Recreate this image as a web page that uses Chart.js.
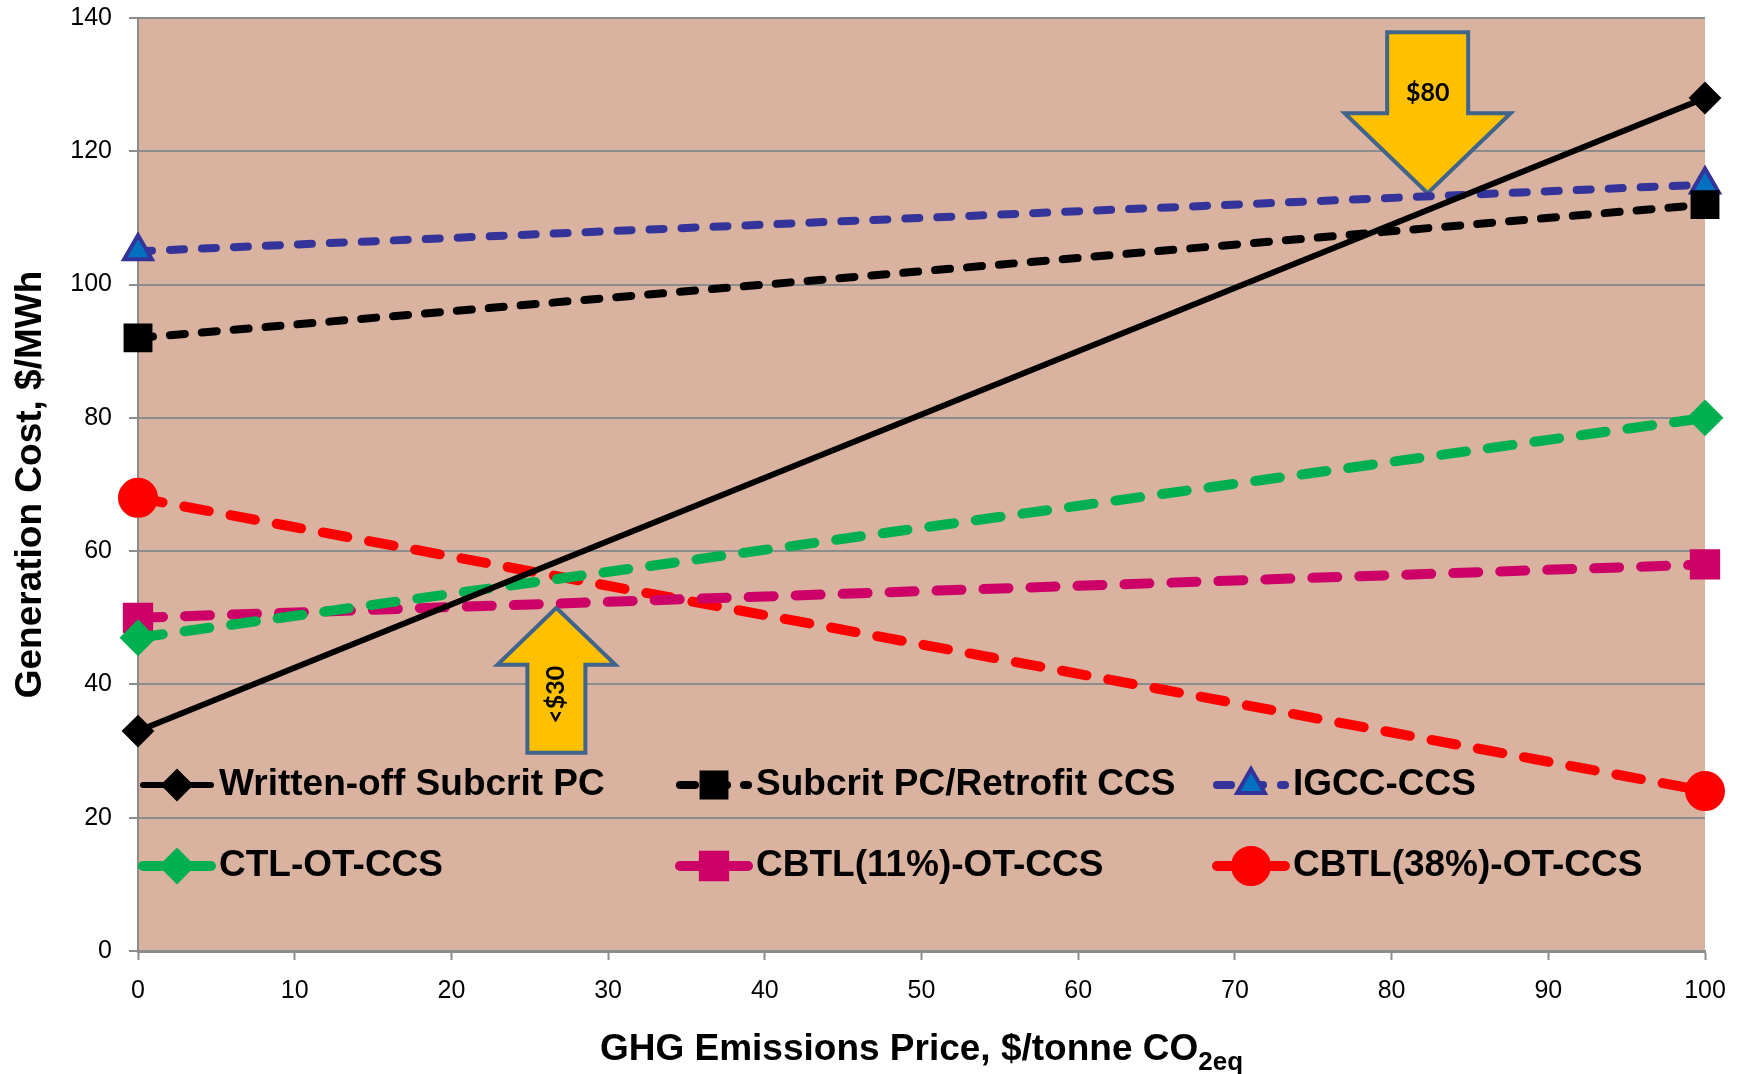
<!DOCTYPE html>
<html>
<head>
<meta charset="utf-8">
<script src="https://cdn.jsdelivr.net/npm/chart.js@4/dist/chart.umd.min.js"></script>
<style>
  html, body { margin: 0; padding: 0; background: #ffffff; }
  #wrap { width: 1737px; height: 1074px; position: relative; }
</style>
</head>
<body>
<div id="wrap"><canvas id="c"></canvas></div>
<script>
// ---- data ----
const ghgPrices = [0, 100];                 // $/tonne CO2eq
const writtenOffSubcritPC = [33, 128];
const subcritRetrofitCCS = [92, 112];
const igccCCS = [105, 115];
const ctlOtCCS = [47, 80];
const cbtl11OtCCS = [50, 58];
const cbtl38OtCCS = [68, 24];
const seriesLabels = ['Written-off Subcrit PC', 'Subcrit PC/Retrofit CCS', 'IGCC-CCS',
                      'CTL-OT-CCS', 'CBTL(11%)-OT-CCS', 'CBTL(38%)-OT-CCS'];
const yTickValues = [0, 20, 40, 60, 80, 100, 120, 140];
const xTickValues = [0, 10, 20, 30, 40, 50, 60, 70, 80, 90, 100];
// annotation arrows: anchored at data coordinates (tip)
const arrowNoteLabels = ['$80', '<$30'];
const arrowNoteX = [82.3, 26.7];
const arrowNoteY = [113.7, 51.5];

const FONT = '"Liberation Sans", Arial, Helvetica, sans-serif';
Chart.defaults.font.family = FONT;
Chart.defaults.color = '#000000';

function pts(ys) { return ghgPrices.map((x, i) => ({ x: x, y: ys[i] })); }

const styles = [
  { color: '#000000', width: 6, dash: [], style: 'rectRot', r: 15, bg: '#000000', bw: 2 },
  { color: '#000000', width: 8, dash: [15, 17], style: 'rect', r: 19, bg: '#000000', bw: 2 },
  { color: '#333399', width: 8, dash: [14, 18], style: 'triangle', r: 16, bg: '#0070C0', bw: 4 },
  { color: '#00B050', width: 10, dash: [25, 22], style: 'rectRot', r: 17, bg: '#00B050', bw: 2 },
  { color: '#CC0066', width: 10, dash: [25, 22], style: 'rect', r: 20, bg: '#CC0066', bw: 2 },
  { color: '#FF0000', width: 10, dash: [25, 22], style: 'circle', r: 19, bg: '#FF0000', bw: 2 }
];
const seriesValues = [writtenOffSubcritPC, subcritRetrofitCCS, igccCCS, ctlOtCCS, cbtl11OtCCS, cbtl38OtCCS];

const datasets = seriesValues.map((vals, i) => {
  const s = styles[i];
  return {
    label: seriesLabels[i],
    data: pts(vals),
    borderColor: s.color,
    backgroundColor: s.bg,
    borderWidth: s.width,
    borderDash: s.dash,
    borderCapStyle: 'round',
    borderJoinStyle: 'round',
    pointStyle: s.style,
    pointRadius: s.r,
    pointBackgroundColor: s.bg,
    pointBorderColor: s.color,
    pointBorderWidth: s.bw,
    tension: 0,
    clip: false,
    fill: false
  };
});

const plotBg = {
  id: 'plotBg',
  beforeDraw(chart) {
    const { ctx, chartArea: a } = chart;
    ctx.save();
    ctx.fillStyle = '#D9B3A0';
    ctx.fillRect(a.left, a.top, a.right - a.left, a.bottom - a.top);
    ctx.restore();
  }
};

const arrows = {
  id: 'arrows',
  beforeDatasetsDraw(chart) {
    const { ctx, scales } = chart;
    const dims = [
      { dir: 1, shaftW: 81, headW: 166, len: 161, headLen: 80, textOff: 100, rot: 0 },
      { dir: -1, shaftW: 58, headW: 118, len: 145, headLen: 57, textOff: 87, rot: -Math.PI / 2 }
    ];
    arrowNoteLabels.forEach((lab, i) => {
      const d = dims[i];
      const tx = scales.x.getPixelForValue(arrowNoteX[i]);
      const ty = scales.y.getPixelForValue(arrowNoteY[i]);
      const s = d.dir; // 1 = pointing down (body above tip)
      ctx.save();
      ctx.beginPath();
      ctx.moveTo(tx - d.shaftW / 2, ty - s * d.len);
      ctx.lineTo(tx + d.shaftW / 2, ty - s * d.len);
      ctx.lineTo(tx + d.shaftW / 2, ty - s * d.headLen);
      ctx.lineTo(tx + d.headW / 2, ty - s * d.headLen);
      ctx.lineTo(tx, ty);
      ctx.lineTo(tx - d.headW / 2, ty - s * d.headLen);
      ctx.lineTo(tx - d.shaftW / 2, ty - s * d.headLen);
      ctx.closePath();
      ctx.fillStyle = '#FFC000';
      ctx.fill();
      ctx.lineWidth = 4;
      ctx.lineJoin = 'miter';
      ctx.strokeStyle = '#41648A';
      ctx.stroke();
      ctx.translate(tx, ty - s * d.textOff);
      ctx.rotate(d.rot);
      ctx.fillStyle = '#000000';
      ctx.font = 'bold 25px Lato, "Open Sans", sans-serif';
      ctx.textAlign = 'center';
      ctx.textBaseline = 'middle';
      ctx.fillText(lab, 0, 0);
      ctx.restore();
    });
  }
};

const insideLegend = {
  id: 'insideLegend',
  afterDatasetsDraw(chart) {
    const { ctx, chartArea: a } = chart;
    const colStep = 537;
    const rowYs = [a.bottom - 166, a.bottom - 85];
    chart.data.datasets.forEach((ds, i) => {
      const col = i % 3, row = Math.floor(i / 3);
      const x0 = a.left + 1 + col * colStep;
      const y = rowYs[row];
      ctx.save();
      ctx.strokeStyle = ds.borderColor;
      ctx.lineWidth = ds.borderWidth;
      ctx.setLineDash(ds.borderDash || []);
      ctx.lineCap = 'round';
      ctx.beginPath();
      ctx.moveTo(x0 + 4, y);
      ctx.lineTo(x0 + 72, y);
      ctx.stroke();
      ctx.setLineDash([]);
      ctx.fillStyle = ds.pointBackgroundColor;
      ctx.strokeStyle = ds.pointBorderColor;
      ctx.lineWidth = ds.pointBorderWidth;
      Chart.helpers.drawPoint(ctx, { pointStyle: ds.pointStyle, radius: ds.pointRadius, rotation: 0, borderWidth: ds.pointBorderWidth }, x0 + 38, y);
      ctx.fillStyle = '#000000';
      ctx.font = 'bold 37px ' + FONT;
      ctx.textAlign = 'left';
      ctx.textBaseline = 'middle';
      ctx.fillText(ds.label, x0 + 80, y);
      ctx.restore();
    });
  }
};

const xTitle = {
  id: 'xTitle',
  afterDraw(chart) {
    const { ctx, chartArea: a } = chart;
    const main = 'GHG Emissions Price, $/tonne CO';
    const sub = '2eq';
    ctx.save();
    ctx.fillStyle = '#000000';
    ctx.textBaseline = 'middle';
    ctx.textAlign = 'left';
    ctx.font = 'bold 37px ' + FONT;
    const w1 = ctx.measureText(main).width;
    ctx.font = 'bold 26px ' + FONT;
    const w2 = ctx.measureText(sub).width;
    const cx = (a.left + a.right) / 2;
    const x = cx - (w1 + w2) / 2;
    const y = chart.height - 24;
    ctx.font = 'bold 37px ' + FONT;
    ctx.fillText(main, x, y);
    ctx.font = 'bold 26px ' + FONT;
    ctx.fillText(sub, x + w1, y + 13);
    ctx.restore();
  }
};

new Chart(document.getElementById('c'), {
  type: 'line',
  data: { datasets: datasets },
  options: {
    responsive: true,
    maintainAspectRatio: false,
    animation: false,
    events: [],
    layout: { autoPadding: false, padding: { left: 0, right: 32, top: 18, bottom: 0 } },
    plugins: {
      legend: { display: false },
      tooltip: { enabled: false }
    },
    scales: {
      x: {
        type: 'linear',
        min: 0, max: 100,
        afterBuildTicks(scale) { scale.ticks = xTickValues.map(v => ({ value: v })); },
        afterFit(scale) {
          scale.height = 123;
          scale.paddingLeft = 0; scale.paddingRight = 0;
          scale.paddingTop = 0; scale.paddingBottom = 0;
        },
        ticks: { font: { size: 25 }, padding: 16, maxRotation: 0, autoSkip: false, color: '#000000' },
        grid: { drawOnChartArea: false, drawTicks: true, tickLength: 9, tickWidth: 2, tickColor: '#8C8C8C' },
        border: { display: true, color: '#8C8C8C', width: 3 },
        title: { display: false }
      },
      y: {
        type: 'linear',
        min: 0, max: 140,
        afterBuildTicks(scale) { scale.ticks = yTickValues.map(v => ({ value: v })); },
        afterFit(scale) {
          scale.width = 138;
          scale.paddingTop = 0; scale.paddingBottom = 0;
          scale.paddingLeft = 0; scale.paddingRight = 0;
        },
        ticks: { font: { size: 25 }, padding: 17, color: '#000000' },
        grid: { color: '#8C8C8C', lineWidth: 2, tickLength: 9, drawTicks: true, tickColor: '#8C8C8C' },
        border: { display: true, color: '#8C8C8C', width: 2 },
        title: { display: true, text: 'Generation Cost, $/MWh', font: { size: 37, weight: 'bold' }, padding: { top: 9, bottom: 0 }, color: '#000000' }
      }
    }
  },
  plugins: [plotBg, arrows, insideLegend, xTitle]
});
</script>
</body>
</html>
